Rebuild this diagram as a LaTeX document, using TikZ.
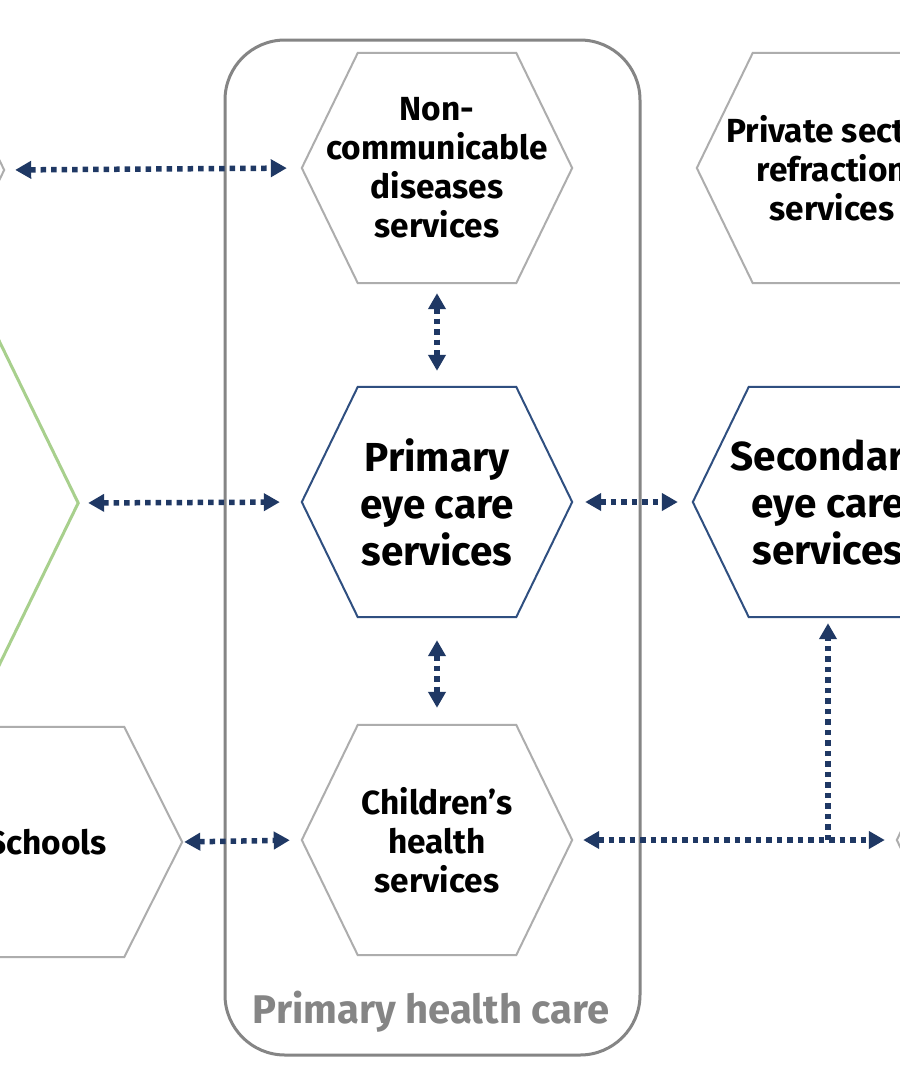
\documentclass[tikz,border=0pt]{standalone}
\usepackage{fontspec}
\setmainfont{Fira Sans}
\usetikzlibrary{arrows.meta,calc}
\definecolor{navy}{HTML}{1F3864}
\definecolor{hexnavy}{HTML}{2F4F80}
\definecolor{hexgrey}{HTML}{ADADAD}
\definecolor{framegrey}{HTML}{858585}
\definecolor{hexgreen}{HTML}{A8D08D}
\newcommand\hexoutline[3]{%
  \draw[#3] (#1.west) -- ([xshift=#2]#1.north west) -- ([xshift=-#2]#1.north east)
    -- (#1.east) -- ([xshift=-#2]#1.south east) -- ([xshift=#2]#1.south west) -- cycle;}
\tikzset{
  hexbox/.style={rectangle, draw=none, minimum width=270pt, minimum height=230pt,
    inner sep=0pt, align=center, font=\bfseries\fontsize{33.4}{39}\selectfont},
  bigtext/.style={font=\bfseries\fontsize{40.5}{47}\selectfont},
  greyline/.style={draw=hexgrey, line width=2pt, line join=miter},
  navyline/.style={draw=hexnavy, line width=2pt, line join=miter},
  greenline/.style={draw=hexgreen, line width=3pt, line join=miter},
  link/.style={navy, line width=5.5pt, dash pattern=on 5.5pt off 5pt,
    {Triangle[length=16pt,width=17pt]}-{Triangle[length=16pt,width=17pt]}},
  linkone/.style={navy, line width=5.5pt, dash pattern=on 5.5pt off 5pt,
    -{Triangle[length=16pt,width=17pt]}},
  frame/.style={rectangle, draw=framegrey, line width=3pt, rounded corners=60pt,
    minimum width=415pt, minimum height=1015pt, inner sep=0pt},
}
\begin{document}
\begin{tikzpicture}[x=1pt,y=-1pt]
  \useasboundingbox (0,0) rectangle (900,1080);
  \fill[white] (0,0) rectangle (900,1080);
  \clip (0,0) rectangle (900,1080);

  % primary health care frame
  \node[frame] (phc) at (432.5,547.5) {};
  \node[font=\bfseries\fontsize{40}{48}\selectfont, text=framegrey] (phclabel) at (431,1012) {Primary health care};

  % hexagons
  \node[hexbox] (ncd) at (437,168) {Non-\\communicable\\diseases\\services};
  \hexoutline{ncd}{56pt}{greyline}
  \node[hexbox, bigtext] (pec) at (437,502) {Primary\\eye care\\services};
  \hexoutline{pec}{56pt}{navyline}
  \node[hexbox] (chs) at (437,840) {Children’s\\health\\services};
  \hexoutline{chs}{56pt}{greyline}

  \node[hexbox] (psr) at (832,168) {Private sector\\refraction\\services};
  \hexoutline{psr}{56pt}{greyline}
  \node[hexbox, bigtext] (sec) at (828,502) {Secondary\\eye care\\services};
  \hexoutline{sec}{56pt}{navyline}

  \node[hexbox] (sch) at (47,842) {Schools};
  \hexoutline{sch}{58pt}{greyline}

  \node[hexbox] (tl) at (-131,170) {};
  \hexoutline{tl}{56pt}{greyline}
  \node[hexbox] (rh) at (1032,840) {};
  \hexoutline{rh}{56pt}{greyline}

  \node[rectangle, draw=none, minimum width=500pt, minimum height=660pt, inner sep=0pt] (gh) at (-172,503) {};
  \hexoutline{gh}{161pt}{greenline}

  % connectors
  \draw[link, shorten <=11pt, shorten >=15pt] (tl.east) -- (ncd.west);
  \draw[link, shorten <=10pt, shorten >=16pt] (ncd.south) -- (pec.north);
  \draw[link, shorten <=10pt, shorten >=22pt] (gh.east) -- (pec.west);
  \draw[link, shorten <=13pt, shorten >=15pt] (pec.east) -- (sec.west);
  \draw[link, shorten <=23pt, shorten >=17pt] (pec.south) -- (chs.north);
  \draw[link, shorten <=2pt, shorten >=12pt] (sch.east) -- (chs.west);
  \draw[link, shorten <=11pt, shorten >=12pt] (chs.east) -- (rh.west);
  \coordinate (j) at (828,840);
  \draw[linkone, shorten >=6pt] (j) -- (sec.south);
\end{tikzpicture}
\end{document}
